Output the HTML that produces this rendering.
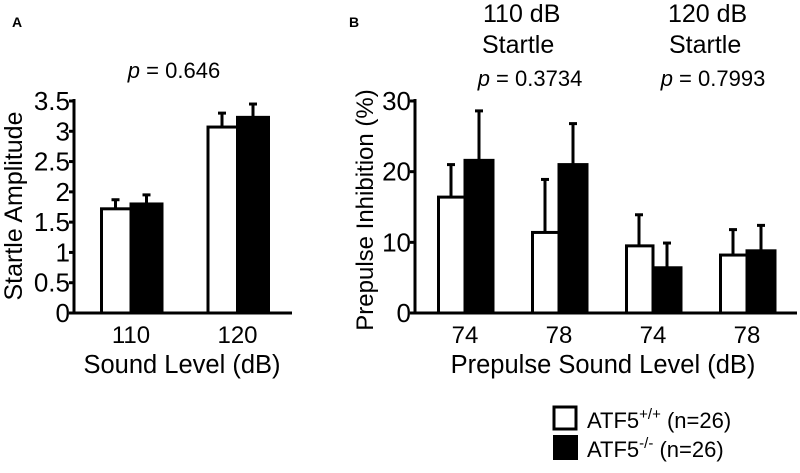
<!DOCTYPE html>
<html><head><meta charset="utf-8"><style>
body{margin:0;background:#fff}
svg text{font-family:"Liberation Sans",Arial,sans-serif;fill:#000}
</style></head><body>
<svg id="c" width="800" height="468" viewBox="0 0 800 468" xmlns="http://www.w3.org/2000/svg">
<text x="12" y="27" font-size="14" font-weight="bold">A</text>
<text x="349" y="27" font-size="14" font-weight="bold">B</text>
<text x="174" y="78" font-size="22" text-anchor="middle"><tspan font-style="italic">p</tspan> = 0.646</text>
<text x="483" y="22" font-size="25">110 dB</text>
<text x="482" y="53" font-size="25">Startle</text>
<text x="668" y="22" font-size="25">120 dB</text>
<text x="669" y="53" font-size="25">Startle</text>
<text x="530" y="86" font-size="22" text-anchor="middle"><tspan font-style="italic">p</tspan> = 0.3734</text>
<text x="713" y="86" font-size="22" text-anchor="middle"><tspan font-style="italic">p</tspan> = 0.7993</text>
<text transform="translate(22,206) rotate(-90)" font-size="25" text-anchor="middle">Startle Amplitude</text>
<text x="182" y="373" font-size="25.5" text-anchor="middle">Sound Level (dB)</text>
<text transform="translate(373,210) rotate(-90)" font-size="24" text-anchor="middle">Prepulse Inhibition (%)</text>
<text x="603" y="373" font-size="25.5" text-anchor="middle">Prepulse Sound Level (dB)</text>
<rect x="554" y="407" width="22" height="22" fill="#fff" stroke="#000" stroke-width="3"/>
<text x="587" y="428" font-size="22">ATF5<tspan font-size="15" dy="-9">+/+</tspan><tspan dy="9"> (n=26)</tspan></text>
<rect x="553" y="435" width="25" height="25" fill="#000"/>
<text x="587" y="457" font-size="22">ATF5<tspan font-size="15" dy="-9">-/-</tspan><tspan dy="9"> (n=26)</tspan></text>
<g id="ga"></g><g id="gb"></g>
</svg>
<script>
const aCats=["110","120"];
const aWT=[1.72,3.07];
const aWTerr=[1.87,3.30];
const aKO=[1.80,3.23];
const aKOerr=[1.95,3.45];
const aTicks=["0","0.5","1","1.5","2","2.5","3","3.5"];
const bCats=["74","78","74","78"];
const bWT=[16.4,11.4,9.5,8.2];
const bWTerr=[21.0,18.9,13.9,11.8];
const bKO=[21.6,21.0,6.4,8.8];
const bKOerr=[28.6,26.8,9.9,12.4];
const bTicks=["0","10","20","30"];
const NS="http://www.w3.org/2000/svg";
function mk(p,t,a){const e=document.createElementNS(NS,t);for(const k in a)e.setAttribute(k,a[k]);p.appendChild(e);return e;}
function panel(g,o,cats,wt,wte,ko,koe,ticks){
  const y=v=>o.y0-(v/o.max)*(o.y0-o.y1);
  let l=mk(g,'line',{x1:o.ax,y1:o.y1-2,x2:o.ax,y2:o.y0+1.5,stroke:'#000','stroke-width':3});
  
  
  l=mk(g,'line',{x1:o.ax-1.5,y1:o.y0,x2:o.xend,y2:o.y0,stroke:'#000','stroke-width':3});
  
  
  ticks.forEach((t,i)=>{const v=parseFloat(t);const yy=y(v);
    let tk=mk(g,'line',{x1:o.ax-5,y1:yy,x2:o.ax,y2:yy,stroke:'#000','stroke-width':3});
    
    
    let tx=mk(g,'text',{x:o.ax-4,y:yy+9,'font-size':26,'text-anchor':'end'});tx.textContent=t;
    
    });
  cats.forEach((c,i)=>{const cx=o.c0+i*o.step;
    const series=[[wt[i],wte[i],cx-o.bw,'#fff'],[ko[i],koe[i],cx,'#000']];
    series.forEach(([v,e,x,f],j)=>{
      let el=mk(g,'line',{x1:x+o.bw/2,y1:y(v),x2:x+o.bw/2,y2:y(e),stroke:'#000','stroke-width':3});
      
      
      el=mk(g,'line',{x1:x+o.bw/2-4,y1:y(e),x2:x+o.bw/2+4,y2:y(e),stroke:'#000','stroke-width':3});
      
      
      let r=mk(g,'rect',{x:x+(j?0:1.5),y:y(v),width:o.bw-(j?0:1.5),height:o.y0-y(v),fill:f,stroke:'#000','stroke-width':3});
      
      });
    let tx=mk(g,'text',{x:cx,y:o.y0+30,'font-size':24,'text-anchor':'middle'});tx.textContent=c;
    
    });
}
panel(document.getElementById('ga'),{ax:74,y0:313,y1:101,max:3.5,xend:292,c0:131,step:106.5,bw:31},aCats,aWT,aWTerr,aKO,aKOerr,aTicks);
panel(document.getElementById('gb'),{ax:415,y0:313,y1:101,max:30,xend:797,c0:465,step:94,bw:28},bCats,bWT,bWTerr,bKO,bKOerr,bTicks);
</script>
</body></html>
